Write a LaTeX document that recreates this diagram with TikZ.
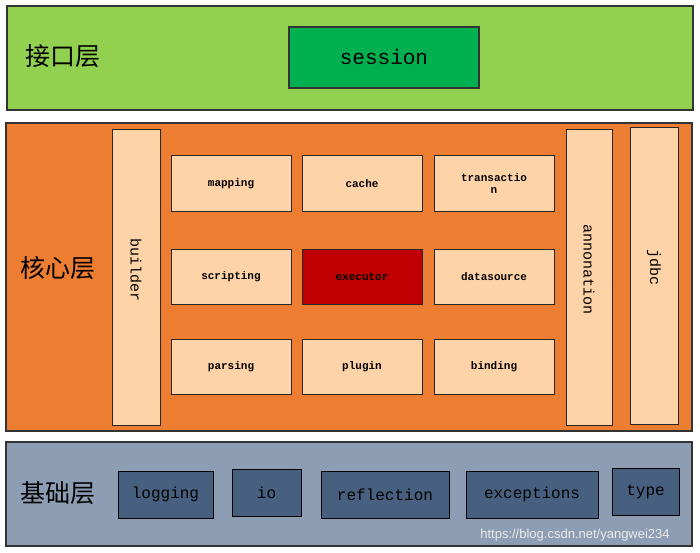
\documentclass[tikz,border=0pt]{standalone}
\usepackage{fontspec}
\setmainfont{Liberation Mono}
\newfontfamily\cjk{Noto Sans CJK SC}
\newfontfamily\wm{Liberation Sans}
\definecolor{lgreen}{HTML}{92D050}
\definecolor{dgreen}{HTML}{00B050}
\definecolor{orng}{HTML}{ED7D31}
\definecolor{peach}{HTML}{FFD3A8}
\definecolor{dred}{HTML}{C00000}
\definecolor{slate}{HTML}{8C9DB4}
\definecolor{dslate}{HTML}{47607F}
\begin{document}
\begin{tikzpicture}[x=1pt,y=-1pt,
  layer/.style={draw=black!80,line width=1.2pt},
  box/.style={draw=black!85,line width=1pt,fill=peach},
  sm/.style={font=\fontsize{11}{12}\selectfont\bfseries},
  bs/.style={draw=black,line width=1pt,fill=dslate},
  bt/.style={font=\fontsize{16}{18}\selectfont},
  lab/.style={font=\cjk\fontsize{25}{28}\selectfont}]
\useasboundingbox (0,0) rectangle (700,553);
\fill[white] (0,0) rectangle (700,553);
% interface layer
\draw[layer,fill=lgreen] (7,6) rectangle (693,110);
\node[lab] (l1) at (63,56) {接口层};
\draw[layer,fill=dgreen] (289,27) rectangle (479,88);
\node[font=\fontsize{21}{24}\selectfont] (session) at (384,57) {session};
% core layer
\draw[layer,fill=orng] (6,123) rectangle (692,431);
\node[lab] (l2) at (58,268) {核心层};
\draw[box] (112,130) rectangle (160,425);
\node[rotate=-90,font=\fontsize{15}{18}\selectfont] (builder) at (136,270) {builder};
\draw[box] (566,130) rectangle (612,425);
\node[rotate=-90,font=\fontsize{15}{18}\selectfont] (annon) at (589,270) {annonation};
\draw[box] (630,128) rectangle (678,424);
\node[rotate=-90,font=\fontsize{15}{18}\selectfont] (jdbc) at (654,268) {jdbc};
\foreach \x/\y/\t/\n in {171/156/mapping/mapping,302/156/cache/cache,
   171/249/scripting/scripting,434/249/datasource/ds,
   171/339/parsing/parsing,302/339/plugin/plugin,434/339/binding/binding}{
  \draw[box] (\x,\y) rectangle ++(120,55);
  \node[sm] (\n) at (\x+60,\y+28) {\t};
}
\draw[box] (434,156) rectangle ++(120,55);
\node[sm,align=center] (trans) at (494,184) {transactio\\n};
\draw[box,fill=dred] (302,249) rectangle ++(120,55);
\node[sm] (executor) at (362,277) {executor};
% base layer
\draw[layer,fill=slate] (6,442) rectangle (692,546);
\node[lab] (l3) at (58,493) {基础层};
\foreach \a/\b/\c/\d/\t/\n in {118/471/213/518/logging/logging,232/469/301/516/io/io,
   321/471/449/518/reflection/refl,466/471/598/518/exceptions/exc,612/468/679/515/type/type}{
  \draw[bs] (\a,\b) rectangle (\c,\d);
  \node[bt] (\n) at ({(\a+\c)/2},{(\b+\d)/2}) {\t};
}
\node[font=\wm\fontsize{13}{14}\selectfont,text=white!85!gray] (wm) at (575,535) {https://blog.csdn.net/yangwei234};
\end{tikzpicture}
\end{document}
